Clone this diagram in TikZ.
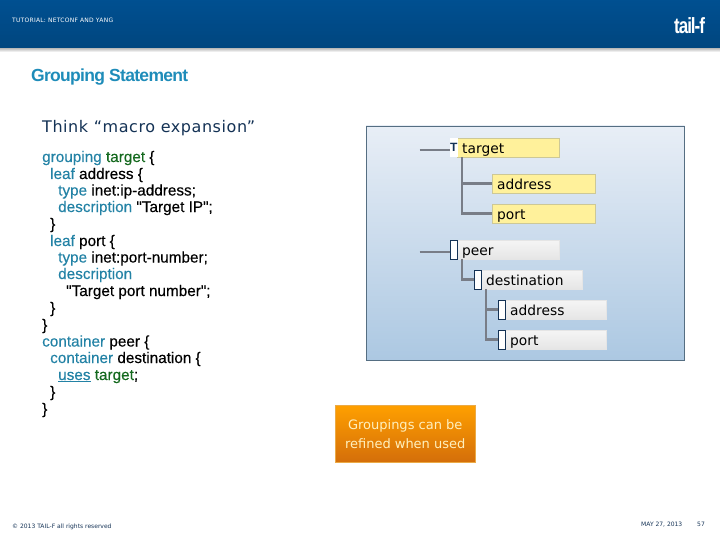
\documentclass[tikz,border=0pt]{standalone}
\usepackage{fontspec}
\setmainfont{Liberation Sans}
\newfontfamily\verdanafont{DejaVu Sans}
\newfontfamily\codefont[FakeBold=0.35]{Liberation Sans}
\usetikzlibrary{fadings}

\definecolor{headdark}{RGB}{0,80,145}
\definecolor{headlight}{RGB}{20,152,208}
\definecolor{titleblue}{RGB}{30,140,185}
\definecolor{kwblue}{RGB}{35,130,165}
\definecolor{idgreen}{RGB}{20,105,30}
\definecolor{inkblue}{RGB}{20,50,85}
\definecolor{linegrey}{RGB}{120,125,135}
\definecolor{boxyellow}{RGB}{255,241,155}
\definecolor{edgeyellow}{RGB}{205,200,150}
\definecolor{paneltop}{RGB}{232,238,246}
\definecolor{panelbottom}{RGB}{172,200,226}
\definecolor{paneledge}{RGB}{85,110,130}
\definecolor{notetop}{RGB}{255,160,0}
\definecolor{notebottom}{RGB}{212,110,10}
\definecolor{noteedge}{RGB}{235,170,70}
\definecolor{notetext}{RGB}{255,240,190}

\newcommand{\kw}[1]{\textcolor{kwblue}{#1}}
\newcommand{\idn}[1]{\textcolor{idgreen}{#1}}

\tikzset{
  codeline/.style={anchor=base west, inner sep=0pt, font=\codefont\fontsize{15.3}{17}\selectfont},
  treelabel/.style={draw, anchor=north west, minimum height=19pt, inner ysep=0pt, inner xsep=5pt,
    text height=13pt, text depth=2pt,
    text width=#1pt-10pt, align=left, text=black, font=\verdanafont\fontsize{13.8}{16}\selectfont},
  yellowbox/.style={treelabel=#1, fill=boxyellow, draw=edgeyellow},
  greybox/.style={treelabel=#1, draw=black!10, top color=white!96!black, bottom color=black!10},
  iconbox/.style={draw=inkblue, fill=white, anchor=north west, inner sep=0pt, minimum width=7pt, minimum height=19pt},
  treeline/.style={draw=linegrey, line width=2.6pt},
  smalltext/.style={anchor=base west, inner sep=0pt, font=\verdanafont\fontsize{6}{7}\selectfont}
}

\begin{document}
\begin{tikzpicture}[x=1pt,y=-1pt]
  \useasboundingbox (0,0) rectangle (720,540);

  % header band
  \shade [top color=black!35, bottom color=white] (0,47) rectangle (720,52);
  \shade [left color=headdark, middle color=headlight, right color=headdark] (0,0) rectangle (720,48);
  \fill [black, opacity=.12, path fading=north] (0,0) rectangle (720,48);
  \node[smalltext, text=white] (tutorial) at (12,23) {\addfontfeature{LetterSpace=4}TUTORIAL: NETCONF AND YANG};
  \node[anchor=base west, inner sep=0pt, text=white, xscale=.85, yscale=1.1, transform shape, font=\bfseries\fontsize{20}{22}\selectfont] (logo) at (674,34) {\addfontfeature{LetterSpace=-6}tail-f};

  % title
  \node[anchor=base west, inner sep=0pt, text=titleblue, font=\bfseries\fontsize{17.5}{20}\selectfont] (title) at (31,81.5) {\addfontfeature{LetterSpace=-4}Grouping Statement};
  \node[anchor=base west, inner sep=0pt, text=inkblue, font=\verdanafont\fontsize{16}{18}\selectfont] (think) at (42,133) {\addfontfeature{LetterSpace=3.5}Think “macro expansion”};

  % yang code, left column
  \node[codeline] (c1) at (42,162) {\kw{grouping} \idn{target} \{};
  \node[codeline] (c2) at (50,179) {\kw{leaf} address \{};
  \node[codeline] (c3) at (58,195.5) {\kw{type} inet:ip-address;};
  \node[codeline] (c4) at (58,212) {\kw{description} "Target IP";};
  \node[codeline] (c5) at (50,229) {\}};
  \node[codeline] (c6) at (50,246) {\kw{leaf} port \{};
  \node[codeline] (c7) at (58,262.5) {\kw{type} inet:port-number;};
  \node[codeline] (c8) at (58,279) {\kw{description}};
  \node[codeline] (c9) at (66,296) {"Target port number";};
  \node[codeline] (c10) at (50,313) {\}};
  \node[codeline] (c11) at (42,330) {\}};
  \node[codeline] (c12) at (42,346.5) {\kw{container} peer \{};
  \node[codeline] (c13) at (50,363) {\kw{container} destination \{};
  \node[codeline] (c14) at (58,380) {\kw{\underline{uses}} \idn{target};};
  \node[codeline] (c15) at (50,397) {\}};
  \node[codeline] (c16) at (42,414) {\}};

  % tree panel
  \draw [draw=paneledge, top color=paneltop, bottom color=panelbottom] (366,126) rectangle (684.5,360);

  \coordinate (targetstub) at (419.5,150);
  \coordinate (peerstub) at (419.5,252);

  \node[yellowbox=102] (targetbox) at (457,138) {target};
  \node[yellowbox=103] (addressbox) at (492,174) {address};
  \node[yellowbox=103] (portbox) at (492,204) {port};
  \node[fill=white, anchor=north west, inner sep=0pt, minimum width=7pt, minimum height=19pt, font=\bfseries\fontsize{12}{12}\selectfont, text=inkblue] (targeticon) at (450,138) {T};

  \node[greybox=102] (peerbox) at (457,240) {peer};
  \node[greybox=101] (destbox) at (481,270) {destination};
  \node[greybox=101] (addrbox) at (505,300) {address};
  \node[greybox=101] (prtbox) at (505,330) {port};
  \node[iconbox] (peericon) at (450,240) {};
  \node[iconbox] (desticon) at (474,270) {};
  \node[iconbox] (addricon) at (498,300) {};
  \node[iconbox] (prticon) at (498,330) {};

  \draw [treeline] (targetstub) -- (targetstub -| targeticon.west);
  \draw [treeline] ([xshift=5pt]targetbox.south west) |- (addressbox.west);
  \draw [treeline] ([xshift=5pt]targetbox.south west) |- (portbox.west);
  \draw [treeline] (peerstub) -- (peerstub -| peericon.west);
  \draw [treeline] ([xshift=5pt]peerbox.south west) |- (desticon.west);
  \draw [treeline] ([xshift=5pt]destbox.south west) |- (addricon.west);
  \draw [treeline] ([xshift=5pt]destbox.south west) |- (prticon.west);

  % orange note
  \node[draw=noteedge, top color=notetop, bottom color=notebottom,
    anchor=north west, minimum width=140pt, minimum height=57pt, inner sep=0pt, align=center,
    text=notetext, font=\verdanafont\fontsize{13}{19}\selectfont] (note) at (335,405) {Groupings can be\\refined when used};

  % footer
  \node[smalltext, text=inkblue] (copyright) at (12,528) {© 2013 TAIL-F all rights reserved};
  \node[smalltext, text=inkblue] (date) at (641,526) {MAY 27, 2013};
  \node[smalltext, text=inkblue] (pageno) at (697,526) {57};
\end{tikzpicture}
\end{document}
